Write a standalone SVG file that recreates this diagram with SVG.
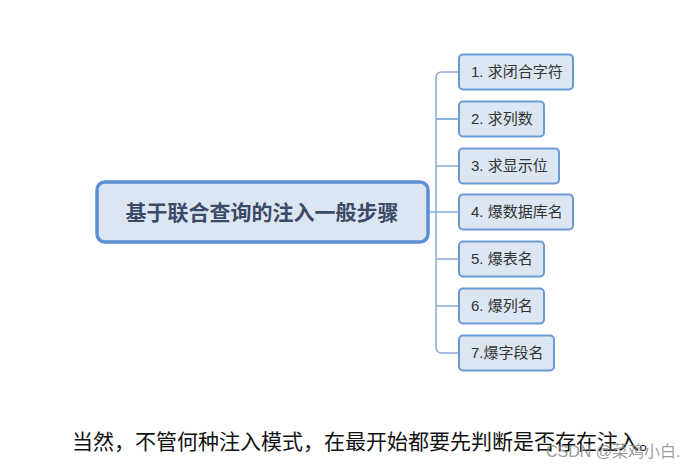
<svg xmlns="http://www.w3.org/2000/svg" width="692" height="467" viewBox="0 0 692 467">
<style>
.bg{fill:#ffffff}
.main{fill:#dce6f2;stroke:#5b8fd3;stroke-width:3.5}
.child{fill:#dce6f2;stroke:#6a9ad6;stroke-width:2}
.mt{font-family:"Noto Sans CJK SC","Liberation Sans",sans-serif;font-size:21px;font-weight:bold;fill:#3b4a66}
.ct{font-family:"Liberation Sans","Noto Sans CJK SC",sans-serif;font-size:15px;fill:#333333}
.conn{fill:none;stroke:#86acdc;stroke-width:1.5}
.note{font-family:"Noto Sans CJK SC",sans-serif;font-size:21px;fill:#111111}
.wm{font-family:"Liberation Sans","Noto Sans CJK SC",sans-serif;font-size:16px;fill:#8a8a8a;fill-opacity:0.85}
</style>
<rect class="bg" x="0" y="0" width="692" height="467"/>
<g id="connectors">
<path class="conn" d="M428,212 H436"/>
<path class="conn" d="M459,72 H442 Q436,72 436,78 V347 Q436,353 442,353 H459"/>
<path class="conn" d="M436,119 Q436,119 442,119 H459"/>
<path class="conn" d="M436,166 H459"/>
<path class="conn" d="M436,212 H459"/>
<path class="conn" d="M436,259 H459"/>
<path class="conn" d="M436,306 H459"/>
<path class="conn" d="M436,119 H459"/>
</g>
<g id="main">
<rect class="main" x="97" y="182" width="331" height="60" rx="8"/>
<text class="mt" x="262" y="220" text-anchor="middle">基于联合查询的注入一般步骤</text>
</g>
<g id="n1"><rect class="child" x="459" y="54.5" width="114" height="35" rx="4"/><text class="ct" x="471" y="77">1. 求闭合字符</text></g>
<g id="n2"><rect class="child" x="459" y="101.5" width="85" height="35" rx="4"/><text class="ct" x="471" y="124">2. 求列数</text></g>
<g id="n3"><rect class="child" x="459" y="148.5" width="100" height="35" rx="4"/><text class="ct" x="471" y="171">3. 求显示位</text></g>
<g id="n4"><rect class="child" x="459" y="194.5" width="114" height="35" rx="4"/><text class="ct" x="471" y="217">4. 爆数据库名</text></g>
<g id="n5"><rect class="child" x="459" y="241.5" width="85" height="35" rx="4"/><text class="ct" x="471" y="264">5. 爆表名</text></g>
<g id="n6"><rect class="child" x="459" y="288.5" width="85" height="35" rx="4"/><text class="ct" x="471" y="311">6. 爆列名</text></g>
<g id="n7"><rect class="child" x="459" y="335.5" width="95" height="35" rx="4"/><text class="ct" x="471" y="358">7.爆字段名</text></g>
<text class="note" x="72" y="449">当然，不管何种注入模式，在最开始都要先判断是否存在注入。</text>
<text class="wm" x="546" y="457">CSDN @菜鸡小白.</text>
</svg>
